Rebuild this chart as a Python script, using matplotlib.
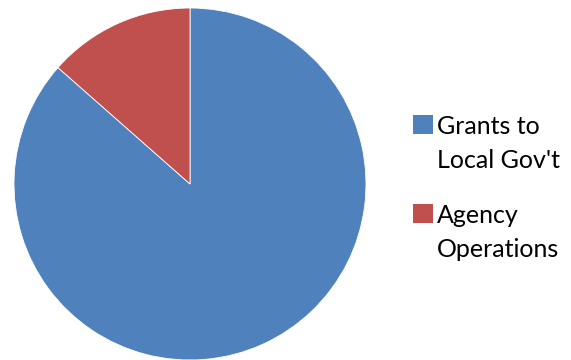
import matplotlib.pyplot as plt
from matplotlib.patches import Rectangle

labels = [["Grants to", "Local Gov't"], ["Agency", "Operations"]]
values = [86.5, 13.5]
colors = ["#4F81BD", "#C0504D"]

plt.rcParams['font.family'] = ['Lato', 'DejaVu Sans']

W, H = 571, 360
fig = plt.figure(figsize=(W / 100, H / 100), dpi=100)
# pie centre approx (190, 184) px, radius ~176 px
r = 176
ax = fig.add_axes([(190 - r) / W, (H - 184 - r) / H, 2 * r / W, 2 * r / H])
ax.pie(values, colors=colors, startangle=90, counterclock=False,
       wedgeprops=dict(edgecolor='white', linewidth=0.6))
ax.set_xlim(-1, 1)
ax.set_ylim(-1, 1)
ax.set_aspect('auto')
ax.axis('off')

# legend drawn by hand (pixel positions from the top-left)
box_tops = [115, 204]
baselines = [(134, 168), (223, 257)]
for c, lab, top, bl in zip(colors, labels, box_tops, baselines):
    fig.patches.append(Rectangle((413 / W, 1 - (top + 19) / H), 20 / W, 19 / H,
                                 facecolor=c, edgecolor='none',
                                 transform=fig.transFigure))
    for line, y in zip(lab, bl):
        fig.text(437 / W, 1 - y / H, line, fontsize=18, va='baseline',
                 ha='left', color='black')

fig.savefig("out.png", dpi=100)
